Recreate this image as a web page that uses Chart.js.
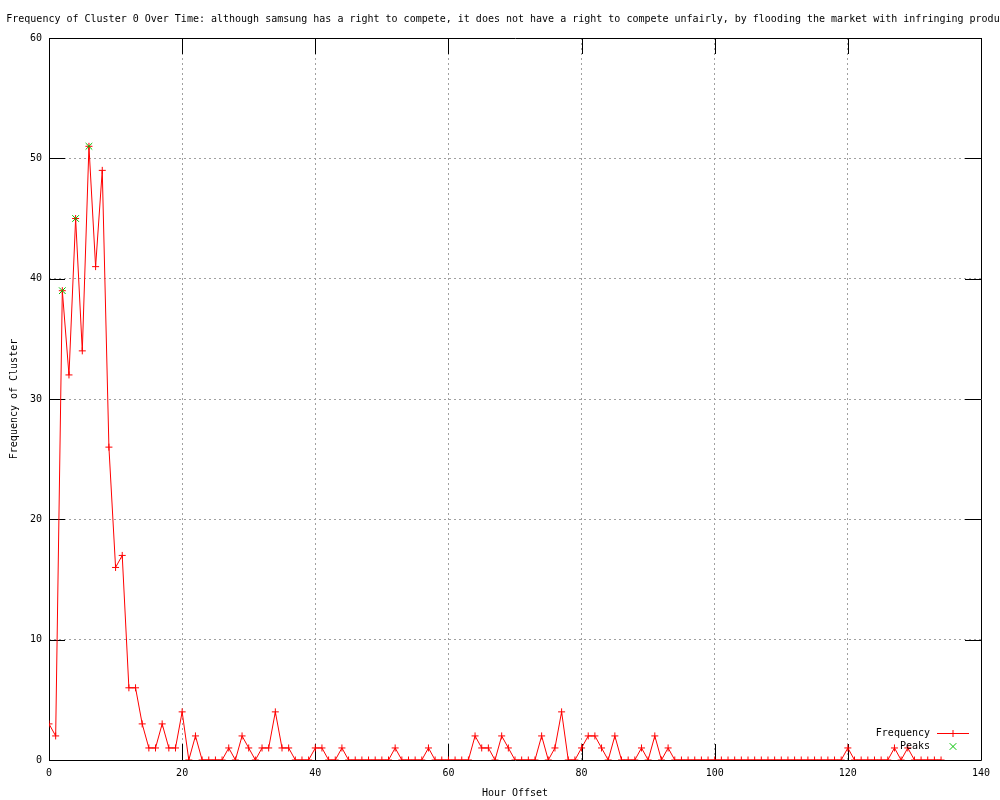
<!DOCTYPE html>
<html>
<head>
<meta charset="utf-8">
<title>Frequency of Cluster 0 Over Time</title>
<script src="https://cdn.jsdelivr.net/npm/chart.js"></script>
<style>
  html, body { margin: 0; padding: 0; background: #fff; }
  #wrap { width: 1000px; height: 800px; }
  canvas { background: #fff; }
</style>
</head>
<body>
<div id="wrap"><canvas id="myChart" width="1000" height="800"></canvas></div>
<script>
const titleText = 'Frequency of Cluster 0 Over Time: although samsung has a right to compete, it does not have a right to compete unfairly, by flooding the market with infringing products.';

// hour offsets and counts
const hours = [
    0, 1, 2, 3, 4, 5, 6, 7, 8, 9, 10, 11, 12, 13, 14, 15, 16, 17, 18, 19,
    20, 21, 22, 23, 24, 25, 26, 27, 28, 29, 30, 31, 32, 33, 34, 35, 36, 37, 38, 39,
    40, 41, 42, 43, 44, 45, 46, 47, 48, 49, 50, 51, 52, 53, 54, 55, 56, 57, 58, 59,
    60, 61, 62, 63, 64, 65, 66, 67, 68, 69, 70, 71, 72, 73, 74, 75, 76, 77, 78, 79,
    80, 81, 82, 83, 84, 85, 86, 87, 88, 89, 90, 91, 92, 93, 94, 95, 96, 97, 98, 99,
    100, 101, 102, 103, 104, 105, 106, 107, 108, 109, 110, 111, 112, 113, 114, 115, 116, 117, 118, 119,
    120, 121, 122, 123, 124, 125, 126, 127, 128, 129, 130, 131, 132, 133, 134
];
const frequency = [
    3, 2, 39, 32, 45, 34, 51, 41, 49, 26, 16, 17, 6, 6, 3, 1, 1, 3, 1, 1,
    4, 0, 2, 0, 0, 0, 0, 1, 0, 2, 1, 0, 1, 1, 4, 1, 1, 0, 0, 0,
    1, 1, 0, 0, 1, 0, 0, 0, 0, 0, 0, 0, 1, 0, 0, 0, 0, 1, 0, 0,
    0, 0, 0, 0, 2, 1, 1, 0, 2, 1, 0, 0, 0, 0, 2, 0, 1, 4, 0, 0,
    1, 2, 2, 1, 0, 2, 0, 0, 0, 1, 0, 2, 0, 1, 0, 0, 0, 0, 0, 0,
    0, 0, 0, 0, 0, 0, 0, 0, 0, 0, 0, 0, 0, 0, 0, 0, 0, 0, 0, 0,
    1, 0, 0, 0, 0, 0, 0, 1, 0, 1, 0, 0, 0, 0, 0
];
const peakHours = [2, 4, 6];
const peakValues = [39, 45, 51];

const xTicks = [0, 20, 40, 60, 80, 100, 120, 140];
const yTicks = [0, 10, 20, 30, 40, 50, 60];

const FONT = "'DejaVu Sans Mono', 'Liberation Mono', monospace";
Chart.defaults.font.family = FONT;
Chart.defaults.font.size = 10;
Chart.defaults.color = '#000';

const TIC = 16;

// title drawn by hand: the chart.js title squeezes long text to fit
const titlePlugin = {
    id: 'longTitle',
    afterDraw(chart) {
        const { ctx, chartArea: a } = chart;
        ctx.save();
        ctx.font = '10px ' + FONT;
        ctx.fillStyle = '#000';
        ctx.textAlign = 'center';
        ctx.textBaseline = 'middle';
        ctx.fillText(titleText, (a.left + a.right) / 2, 19);
        ctx.restore();
    }
};

// gnuplot style box with inward tics on all four sides
const framePlugin = {
    id: 'frame',
    beforeDatasetsDraw(chart) {
        const { ctx, chartArea: a, scales } = chart;
        ctx.save();
        ctx.strokeStyle = '#000';
        ctx.lineWidth = 1;
        ctx.beginPath();
        ctx.rect(a.left + 0.5, a.top + 0.5, a.right - a.left, a.bottom - a.top);
        scales.x.ticks.forEach(t => {
            const px = Math.round(scales.x.getPixelForValue(t.value)) + 0.5;
            ctx.moveTo(px, a.bottom); ctx.lineTo(px, a.bottom - TIC);
            ctx.moveTo(px, a.top); ctx.lineTo(px, a.top + TIC);
        });
        scales.y.ticks.forEach(t => {
            const py = Math.round(scales.y.getPixelForValue(t.value)) + 0.5;
            ctx.moveTo(a.left, py); ctx.lineTo(a.left + TIC, py);
            ctx.moveTo(a.right, py); ctx.lineTo(a.right - TIC, py);
        });
        ctx.stroke();
        ctx.restore();
    }
};

// key in the lower right corner, inside the plot
const keyPlugin = {
    id: 'key',
    afterDatasetsDraw(chart) {
        const { ctx, chartArea: a } = chart;
        const ds = chart.data.datasets;
        const textRight = a.right - 51;
        const mid = a.right - 28;
        ctx.save();
        ctx.font = '10px ' + FONT;
        ctx.fillStyle = '#000';
        ctx.textAlign = 'right';
        ctx.textBaseline = 'middle';
        ds.forEach((d, i) => {
            const y = Math.round(a.bottom - 27 + i * 13) + 0.5;
            ctx.fillText(d.label, textRight, y);
            ctx.strokeStyle = d.borderColor;
            ctx.lineWidth = 1;
            ctx.beginPath();
            if (d.showLine !== false) {
                ctx.moveTo(a.right - 44, y); ctx.lineTo(a.right - 12, y);
            }
            if (d.pointStyle === 'cross') {
                const r = d.pointRadius;
                ctx.moveTo(mid - r, y); ctx.lineTo(mid + r, y);
                ctx.moveTo(mid, y - r); ctx.lineTo(mid, y + r);
            } else {
                const r = d.pointRadius * Math.SQRT1_2;
                ctx.moveTo(mid - r, y - r); ctx.lineTo(mid + r, y + r);
                ctx.moveTo(mid - r, y + r); ctx.lineTo(mid + r, y - r);
            }
            ctx.stroke();
        });
        ctx.restore();
    }
};

const gridColor = (ctx) => {
    const v = ctx.tick ? ctx.tick.value : null;
    const s = ctx.scale;
    return (v === s.min || v === s.max) ? 'rgba(0,0,0,0)' : '#a0a0a0';
};

document.addEventListener('DOMContentLoaded', () => {
    const ctx = document.getElementById('myChart').getContext('2d');
    const myChart = new Chart(ctx, {
        type: 'line',
        data: {
            datasets: [{
                label: 'Frequency',
                data: hours.map((h, i) => ({ x: h, y: frequency[i] })),
                borderColor: '#ff0000',
                backgroundColor: '#ff0000',
                borderWidth: 1,
                pointStyle: 'cross',
                pointRadius: 3.5,
                pointBorderWidth: 1,
                pointBorderColor: '#ff0000',
                tension: 0,
                fill: false,
                order: 1
            }, {
                label: 'Peaks',
                data: peakHours.map((h, i) => ({ x: h, y: peakValues[i] })),
                borderColor: '#00c000',
                backgroundColor: '#00c000',
                showLine: false,
                pointStyle: 'crossRot',
                pointRadius: 4.7,
                pointBorderWidth: 1,
                pointBorderColor: '#00c000',
                order: 0
            }]
        },
        options: {
            responsive: false,
            animation: false,
            layout: { padding: { left: 8, right: 19, top: 38, bottom: 0 } },
            plugins: {
                legend: { display: false },
                tooltip: { enabled: false },
                title: { display: false }
            },
            scales: {
                x: {
                    type: 'linear',
                    min: 0,
                    max: 140,
                    afterFit: (scale) => { scale.height = 40; },
                    afterBuildTicks: (scale) => { scale.ticks = xTicks.map(v => ({ value: v })); },
                    ticks: { padding: 7, maxRotation: 0, color: '#000' },
                    grid: { color: gridColor, lineWidth: 1, drawTicks: false },
                    border: { display: false, dash: [2, 3] },
                    title: {
                        display: true,
                        text: 'Hour Offset',
                        color: '#000',
                        font: { size: 10, family: FONT },
                        padding: { top: 0, bottom: 1 }
                    }
                },
                y: {
                    min: 0,
                    max: 60,
                    afterFit: (scale) => { scale.width = 41; },
                    afterBuildTicks: (scale) => { scale.ticks = yTicks.map(v => ({ value: v })); },
                    ticks: { padding: 7, color: '#000' },
                    grid: { color: gridColor, lineWidth: 1, drawTicks: false },
                    border: { display: false, dash: [2, 3] },
                    title: {
                        display: true,
                        text: 'Frequency of Cluster',
                        color: '#000',
                        font: { size: 10, family: FONT },
                        padding: { top: 0, bottom: 0 }
                    }
                }
            }
        },
        plugins: [framePlugin, keyPlugin, titlePlugin]
    });
});
</script>
</body>
</html>
